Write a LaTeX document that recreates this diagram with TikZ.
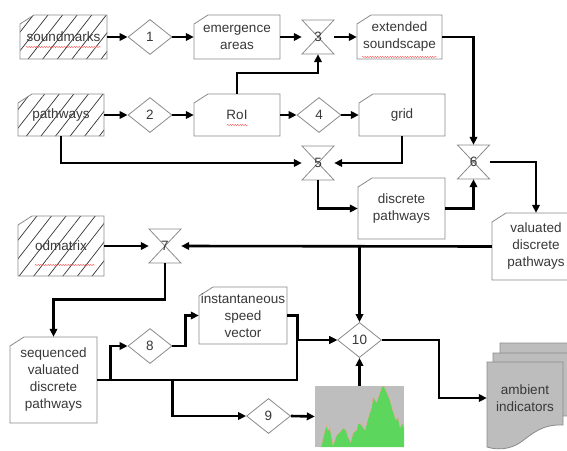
\documentclass[tikz,border=0pt]{standalone}
\usepackage{fontspec}
\setmainfont{Liberation Sans}
\usetikzlibrary{shapes.geometric,arrows.meta,calc,patterns.meta,decorations.pathmorphing}
\definecolor{txtc}{HTML}{383838}
\definecolor{boxc}{HTML}{8A8A8A}
\definecolor{chartbg}{HTML}{BEBEBE}
\definecolor{chartfg}{HTML}{5CD65C}
\definecolor{docc}{HTML}{BDBDBD}
\tikzset{
  conn/.style={line width=2.6pt, -{Triangle[length=8pt,width=7.5pt]}},
  boxdraw/.style={draw=boxc, line width=0.8pt},
  hatch/.style={pattern={Lines[angle=52,distance=11.5pt,line width=0.7pt]}, pattern color=black!80},
  txt/.style={text=txtc, font=\fontsize{13.5}{17}\selectfont, align=center, inner sep=0pt},
  dia/.style={diamond, draw=boxc, line width=0.8pt, fill=white, minimum width=44pt, minimum height=35pt, aspect=1.25, txt},
  hg/.style={txt, minimum width=32pt, minimum height=34pt},
  squig/.style={red!70, line width=0.4pt, decorate, decoration={snake,amplitude=0.6pt,segment length=2.5pt}},
  docstyle/.style={draw=boxc, line width=0.8pt, fill=docc},
}
% card: [style] name x1 y1 x2 y2 text
\newcommand\card[7][fill=white]{%
  \draw[boxdraw,#1] (#3,#4+9) -- (#3+14,#4) -- (#5,#4) -- (#5,#6) -- (#3,#6) -- cycle;
  \node[txt, minimum width={#5pt-#3pt}, minimum height={#6pt-#4pt}] (#2) at ({(#3+#5)/2},{(#4+#6)/2}) {#7};
}
% hourglass: name x y label
\newcommand\hglass[4]{%
  \draw[boxdraw, fill=white] (#2-16,#3-17) -- (#2+16,#3-17) -- (#2,#3) -- (#2+16,#3+17) -- (#2-16,#3+17) -- (#2,#3) -- cycle;
  \node[hg] (#1) at (#2,#3) {#4};
}
\begin{document}
\begin{tikzpicture}[x=1pt,y=-1pt]
\useasboundingbox (0,0) rectangle (567,450);

% ---- boxes ----
\card[hatch]{sm}{20}{15}{107}{59}{soundmarks}
\card{em}{194}{15}{280}{59}{emergence\\areas}
\card{ext}{357}{15}{442}{59}{extended\\soundscape}
\card[hatch]{pw}{18}{94}{104}{136}{pathways}
\card{roi}{194}{94}{280}{136}{RoI}
\card{grid}{359}{94}{445}{136}{grid}
\card{disc}{358}{178}{445}{239}{discrete\\pathways}
\card{val}{492}{213}{580}{280}{valuated\\discrete\\pathways}
\card[hatch]{od}{18}{216}{104}{276}{odmatrix}
\card{seq}{10}{337}{97}{423}{sequenced\\valuated\\discrete\\pathways}
\card{inst}{199}{287}{287}{344}{instantaneous\\speed\\vector}

% ---- diamonds ----
\node[dia] (d1) at (150,37) {1};
\node[dia] (d2) at (150,115) {2};
\node[dia] (d4) at (319,115) {4};
\node[dia] (d8) at (150,346) {8};
\node[dia] (d9) at (268.5,416) {9};
\node[dia] (d10) at (359.5,340) {10};

% ---- hourglasses ----
\hglass{h3}{318}{37}{3}
\hglass{h5}{318}{163}{5}
\hglass{h6}{473.5}{162}{6}
\hglass{h7}{165}{246}{7}

% ---- chart ----
\node[fill=chartbg, minimum width=89pt, minimum height=61pt, inner sep=0pt] (chart) at (359.5,416.5) {};
\fill[chartfg] (321,447) -- (325,430) -- (326.7,425) -- (328,430) -- (330,428) -- (333,445)
  -- (336.7,435) -- (340,432) -- (343,428) -- (346,430) -- (348,437) -- (350.7,442)
  -- (353,433) -- (356.7,430) -- (358,423) -- (361.7,425) -- (365,430) -- (368,418)
  -- (371.7,407) -- (373,397) -- (376.7,402) -- (378,398) -- (381.7,387) -- (384,386)
  -- (386.7,392) -- (390,400) -- (392.7,410) -- (396,420) -- (398,417) -- (400,427)
  -- (402.7,423) -- (404,428) -- (404,447) -- cycle;
\draw[red!35, line width=0.4pt] (321,447) -- (325,430) -- (326.7,425) -- (328,430) -- (330,428) -- (333,445)
  -- (336.7,435) -- (340,432) -- (343,428) -- (346,430) -- (348,437) -- (350.7,442)
  -- (353,433) -- (356.7,430) -- (358,423) -- (361.7,425) -- (365,430) -- (368,418)
  -- (371.7,407) -- (373,397) -- (376.7,402) -- (378,398) -- (381.7,387) -- (384,386)
  -- (386.7,392) -- (390,400) -- (392.7,410) -- (396,420) -- (398,417) -- (400,427)
  -- (402.7,423) -- (404,428);

% ---- ambient indicators (multi-document) ----
\foreach \dx/\dy in {13/-19, 6/-9, 0/0}{
  \draw[docstyle, shift={(\dx,\dy)}] (487,362) -- (563,362) -- (563,425)
    .. controls (542,424) and (532,434) .. (521,442)
    .. controls (510,450) and (496,450) .. (487,447) -- cycle;
}
\node[txt, minimum width=76pt, minimum height=86pt] (amb) at (525,398) {ambient\\indicators};

% ---- spell-check squiggles ----
\draw[squig] (26,47) -- (101,47);
\draw[squig] (227,125) -- (248,125);
\draw[squig] (362,57) -- (437,57);
\draw[squig] (35,265) -- (95,265);

% ---- connectors ----
\draw[conn] (sm.east) -- (d1.west);
\draw[conn] (d1.east) -- (em.west);
\draw[conn] (em.east) -- (h3.west);
\draw[conn] (h3.east) -- (ext.west);
\draw[conn] (roi.north) -- ++(0,-21) -| (h3.south);
\draw[conn] (pw.east) -- (d2.west);
\draw[conn] (d2.east) -- (roi.west);
\draw[conn] (roi.east) -- (d4.west);
\draw[conn] (d4.east) -- (grid.west);
\draw[conn] (pw.south) |- (h5.west);
\draw[conn] (grid.south) |- (h5.east);
\draw[conn] (h5.south) |- (disc.west);
\draw[conn] (ext.east) -| (h6.north);
\draw[conn] (disc.east) -| (h6.south);
\draw[conn] (h6.east) -| (val.north);
\draw[conn] (val.west) -- (h7.east);
\draw[conn] (d10.north |- val.west) -- (d10.north);
\draw[conn] (od.east) -- (h7.west);
\draw[conn] (h7.south) -- ++(0,36) -| (seq.north);
\draw[conn] (seq.east) -| ($(d10.west)+(-40,0)$) -- (d10.west);
\draw[conn] ($(seq.east)+(13,0)$) |- (d8.west);
\draw[conn] (d8.east) -- ++(13,0) |- (inst.west);
\draw[conn] (inst.east) -- ++(10,0) |- (d10.west);
\draw[conn] ($(seq.east)+(75,0)$) |- (d9.west);
\draw[conn] (d9.east) -- (chart.west);
\draw[conn] (chart.north) -- (d10.south);
\draw[conn] (d10.east) -- ++(57,0) |- (amb.west);
\end{tikzpicture}
\end{document}
